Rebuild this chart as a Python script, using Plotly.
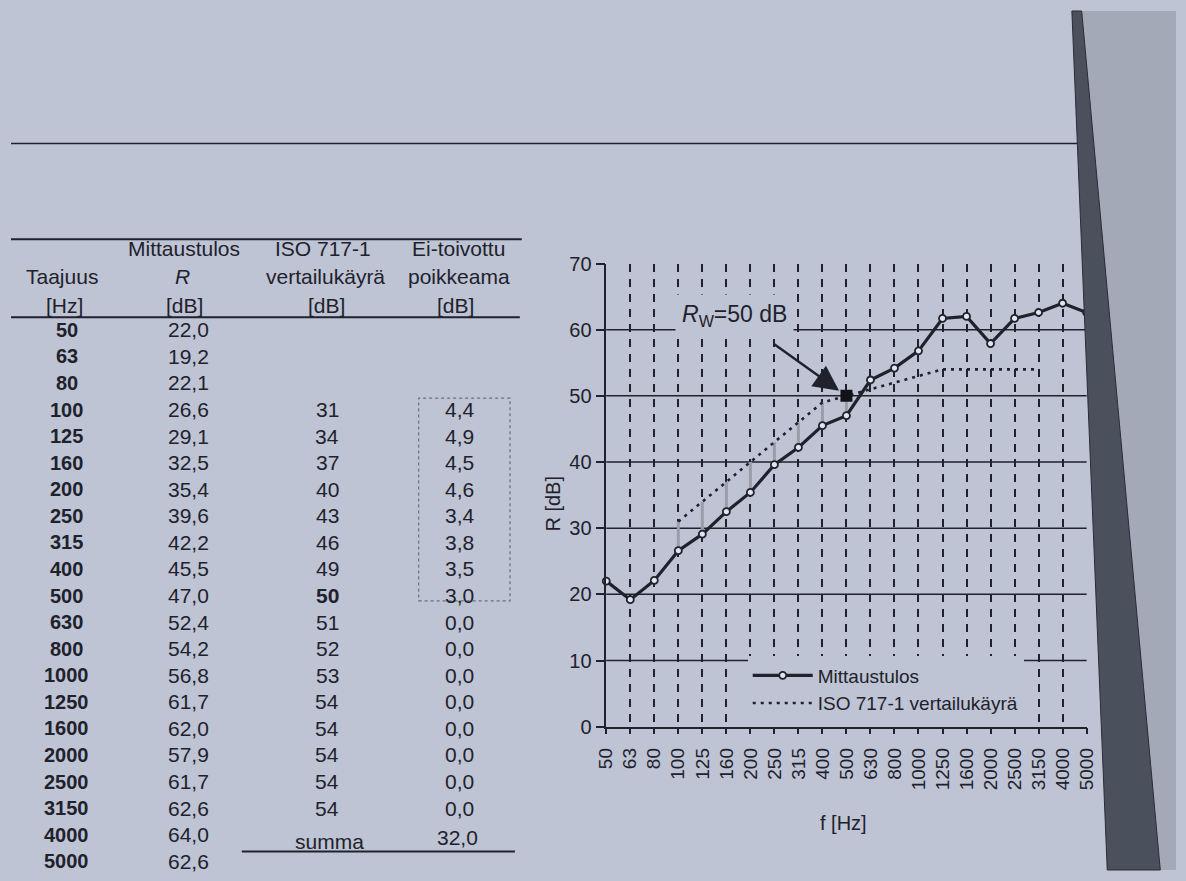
import plotly.graph_objects as go

# ---------------- data ----------------
FREQ = ["50", "63", "80", "100", "125", "160", "200", "250", "315", "400", "500",
        "630", "800", "1000", "1250", "1600", "2000", "2500", "3150", "4000", "5000"]
R_MEAS = [22.0, 19.2, 22.1, 26.6, 29.1, 32.5, 35.4, 39.6, 42.2, 45.5, 47.0,
          52.4, 54.2, 56.8, 61.7, 62.0, 57.9, 61.7, 62.6, 64.0, 62.6]
REF_FREQ = ["100", "125", "160", "200", "250", "315", "400", "500",
            "630", "800", "1000", "1250", "1600", "2000", "2500", "3150"]
REF = [31, 34, 37, 40, 43, 46, 49, 50, 51, 52, 53, 54, 54, 54, 54, 54]
DEV = [4.4, 4.9, 4.5, 4.6, 3.4, 3.8, 3.5, 3.0, 0.0, 0.0, 0.0, 0.0, 0.0, 0.0, 0.0, 0.0]
DEV_SUM = 32.0
RW = 50
RW_FREQ = "500"
Y_TICKS = [0, 10, 20, 30, 40, 50, 60, 70]
GRID_LEVELS = [10, 20, 30, 40, 50, 60]

HEAD_ROW1 = ["Mittaustulos", "ISO 717-1", "Ei-toivottu"]
HEAD_ROW2 = ["Taajuus", "<i>R</i>", "vertailukäyrä", "poikkeama"]
HEAD_ROW3 = ["[Hz]", "[dB]", "[dB]", "[dB]"]
SERIES_NAMES = ["Mittaustulos", "ISO 717-1 vertailukäyrä"]

# ---------------- layout helpers ----------------
W, H = 1186, 881
def PX(x):
    return x / W
def PY(y):
    return 1 - y / H

BG = "#bec4d4"
INK = "#1f222c"
FONT = "Liberation Sans, Arial, sans-serif"

def fmt(v):
    return f"{v:.1f}".replace(".", ",")

r_by_f = dict(zip(FREQ, R_MEAS))

fig = go.Figure()

# unfavourable deviation bars
dev_x, dev_y = [], []
for f, ref, d in zip(REF_FREQ, REF, DEV):
    if d > 0:
        dev_x += [f, f, None]
        dev_y += [r_by_f[f], ref, None]
fig.add_trace(go.Scatter(x=dev_x, y=dev_y, mode="lines",
                         line=dict(color="#9a9ea8", width=3),
                         showlegend=False, hoverinfo="skip"))

fig.add_trace(go.Scatter(x=REF_FREQ, y=REF, name=SERIES_NAMES[1], mode="lines",
                         line=dict(color=INK, width=2.6, dash="3px,5px"),
                         legendrank=2, hoverinfo="skip"))

fig.add_trace(go.Scatter(x=FREQ, y=R_MEAS, name=SERIES_NAMES[0], mode="lines+markers",
                         line=dict(color=INK, width=3.2),
                         marker=dict(symbol="circle", size=7, color="#e2e5ee",
                                     line=dict(color=INK, width=1.8)),
                         cliponaxis=False, legendrank=1, hoverinfo="skip"))

fig.add_trace(go.Scatter(x=[RW_FREQ], y=[RW], mode="markers",
                         marker=dict(symbol="square", size=12, color="#111318"),
                         showlegend=False, hoverinfo="skip"))

shapes = []
for lv in GRID_LEVELS:
    shapes.append(dict(type="line", xref="x domain", yref="y", x0=0, x1=1, y0=lv, y1=lv,
                       line=dict(color=INK, width=1.5), layer="below"))

def hline(x0, x1, y, w=2, color=INK):
    return dict(type="line", xref="paper", yref="paper", x0=PX(x0), x1=PX(x1),
                y0=PY(y), y1=PY(y), line=dict(color=color, width=w))

shapes += [
    hline(0, 1088, 136, 1.5),
    hline(0, 520, 234, 2),
    hline(0, 518, 314, 2),
    hline(235, 513, 862, 2),
    dict(type="rect", xref="paper", yref="paper", x0=PX(415), x1=PX(508),
         y0=PY(605), y1=PY(397), line=dict(color="#6a6e7a", width=1.2, dash="dot")),
    # page edge (photo)
    dict(type="path", xref="paper", yref="paper",
         path=f"M {PX(1083)},{PY(0)} L {PX(1186)},{PY(0)} L {PX(1186)},{PY(881)} L {PX(1170)},{PY(881)} Z",
         fillcolor="#a4a9b8", line=dict(width=0)),
    dict(type="path", xref="paper", yref="paper",
         path=f"M {PX(1080)},{PY(0)} L {PX(1090)},{PY(0)} L {PX(1170)},{PY(881)} L {PX(1116)},{PY(881)} Z",
         fillcolor="#4b505d", line=dict(color="#2a2d36", width=1)),
]

ann = []
def txt(s, x, y, size=21, bold=False, **kw):
    t = f"<b>{s}</b>" if bold else s
    a = dict(text=t, x=PX(x), y=PY(y), xref="paper", yref="paper", showarrow=False,
             xanchor="center", yanchor="middle", font=dict(size=size, color=INK, family=FONT))
    a.update(kw)
    ann.append(a)

# table headers
for s, x in zip(HEAD_ROW1, [176, 318, 456]):
    txt(s, x, 244, 21)
for s, x in zip(HEAD_ROW2, [52, 175, 320, 456]):
    txt(s, x, 272, 21)
for s, x in zip(HEAD_ROW3, [54, 177, 321, 453]):
    txt(s, x, 302, 21)

# table body
ROW0, ROWSTEP = 327, 27.25
for i, (f, r) in enumerate(zip(FREQ, R_MEAS)):
    y = ROW0 + i * ROWSTEP
    txt(f, 57, y, 20, bold=True)
    txt(fmt(r), 181, y, 21)
for f, ref, d in zip(REF_FREQ, REF, DEV):
    y = ROW0 + FREQ.index(f) * ROWSTEP
    txt(str(ref), 322, y, 21, bold=(f == RW_FREQ))
    txt(fmt(d), 457, y, 21)
txt("summa", 324, 852, 21)
txt(fmt(DEV_SUM), 455, 848, 21)

# chart texts
txt("R [dB]", 552, 505, 20, textangle=-90)
txt("f [Hz]", 847, 833, 20)
# Rw label with arrow pointing at the Rw point of the reference curve
ann.append(dict(text="<i>R</i><sub>W</sub>=50 dB", x=FREQ.index(RW_FREQ), y=RW,
                xref="x", yref="y",
                showarrow=True, ax=-112, ay=-80, arrowhead=2, arrowsize=2.1,
                arrowwidth=2.4, arrowcolor=INK, standoff=9, startstandoff=12,
                bgcolor=BG, borderpad=6,
                font=dict(size=23, color=INK, family=FONT)))

fig.update_layout(
    width=W, height=H,
    margin=dict(l=0, r=0, t=0, b=0),
    paper_bgcolor=BG, plot_bgcolor=BG,
    font=dict(family=FONT, color=INK),
    showlegend=True,
    legend=dict(x=PX(750), y=PY(662), xanchor="left", yanchor="top",
                bgcolor=BG, borderwidth=0, font=dict(size=19, color=INK, family=FONT),
                tracegroupgap=0, itemwidth=60),
    xaxis=dict(domain=[PX(606), PX(1095)], type="category", categoryorder="array",
               categoryarray=FREQ, range=[0, 20], tickangle=-90,
               tickfont=dict(size=19, color=INK), ticks="outside", ticklen=6,
               tickcolor=INK, tickwidth=1.5, showline=True, linecolor=INK, linewidth=1.5,
               showgrid=True, gridcolor=INK, gridwidth=1.5, griddash="8px,7px",
               zeroline=False, ticklabelstandoff=6),
    yaxis=dict(domain=[PY(734), PY(259)], range=[0, 70], tickvals=Y_TICKS,
               tickfont=dict(size=20, color=INK), ticks="outside", ticklen=9,
               tickcolor=INK, tickwidth=1.5, showline=True, linecolor=INK, linewidth=1.5,
               showgrid=False, zeroline=False),
    shapes=shapes,
    annotations=ann,
)

fig.write_html(
    "out.html",
    config={"displayModeBar": False},
    post_script="document.body.style.margin='0';document.body.style.background='" + BG + "';",
)
